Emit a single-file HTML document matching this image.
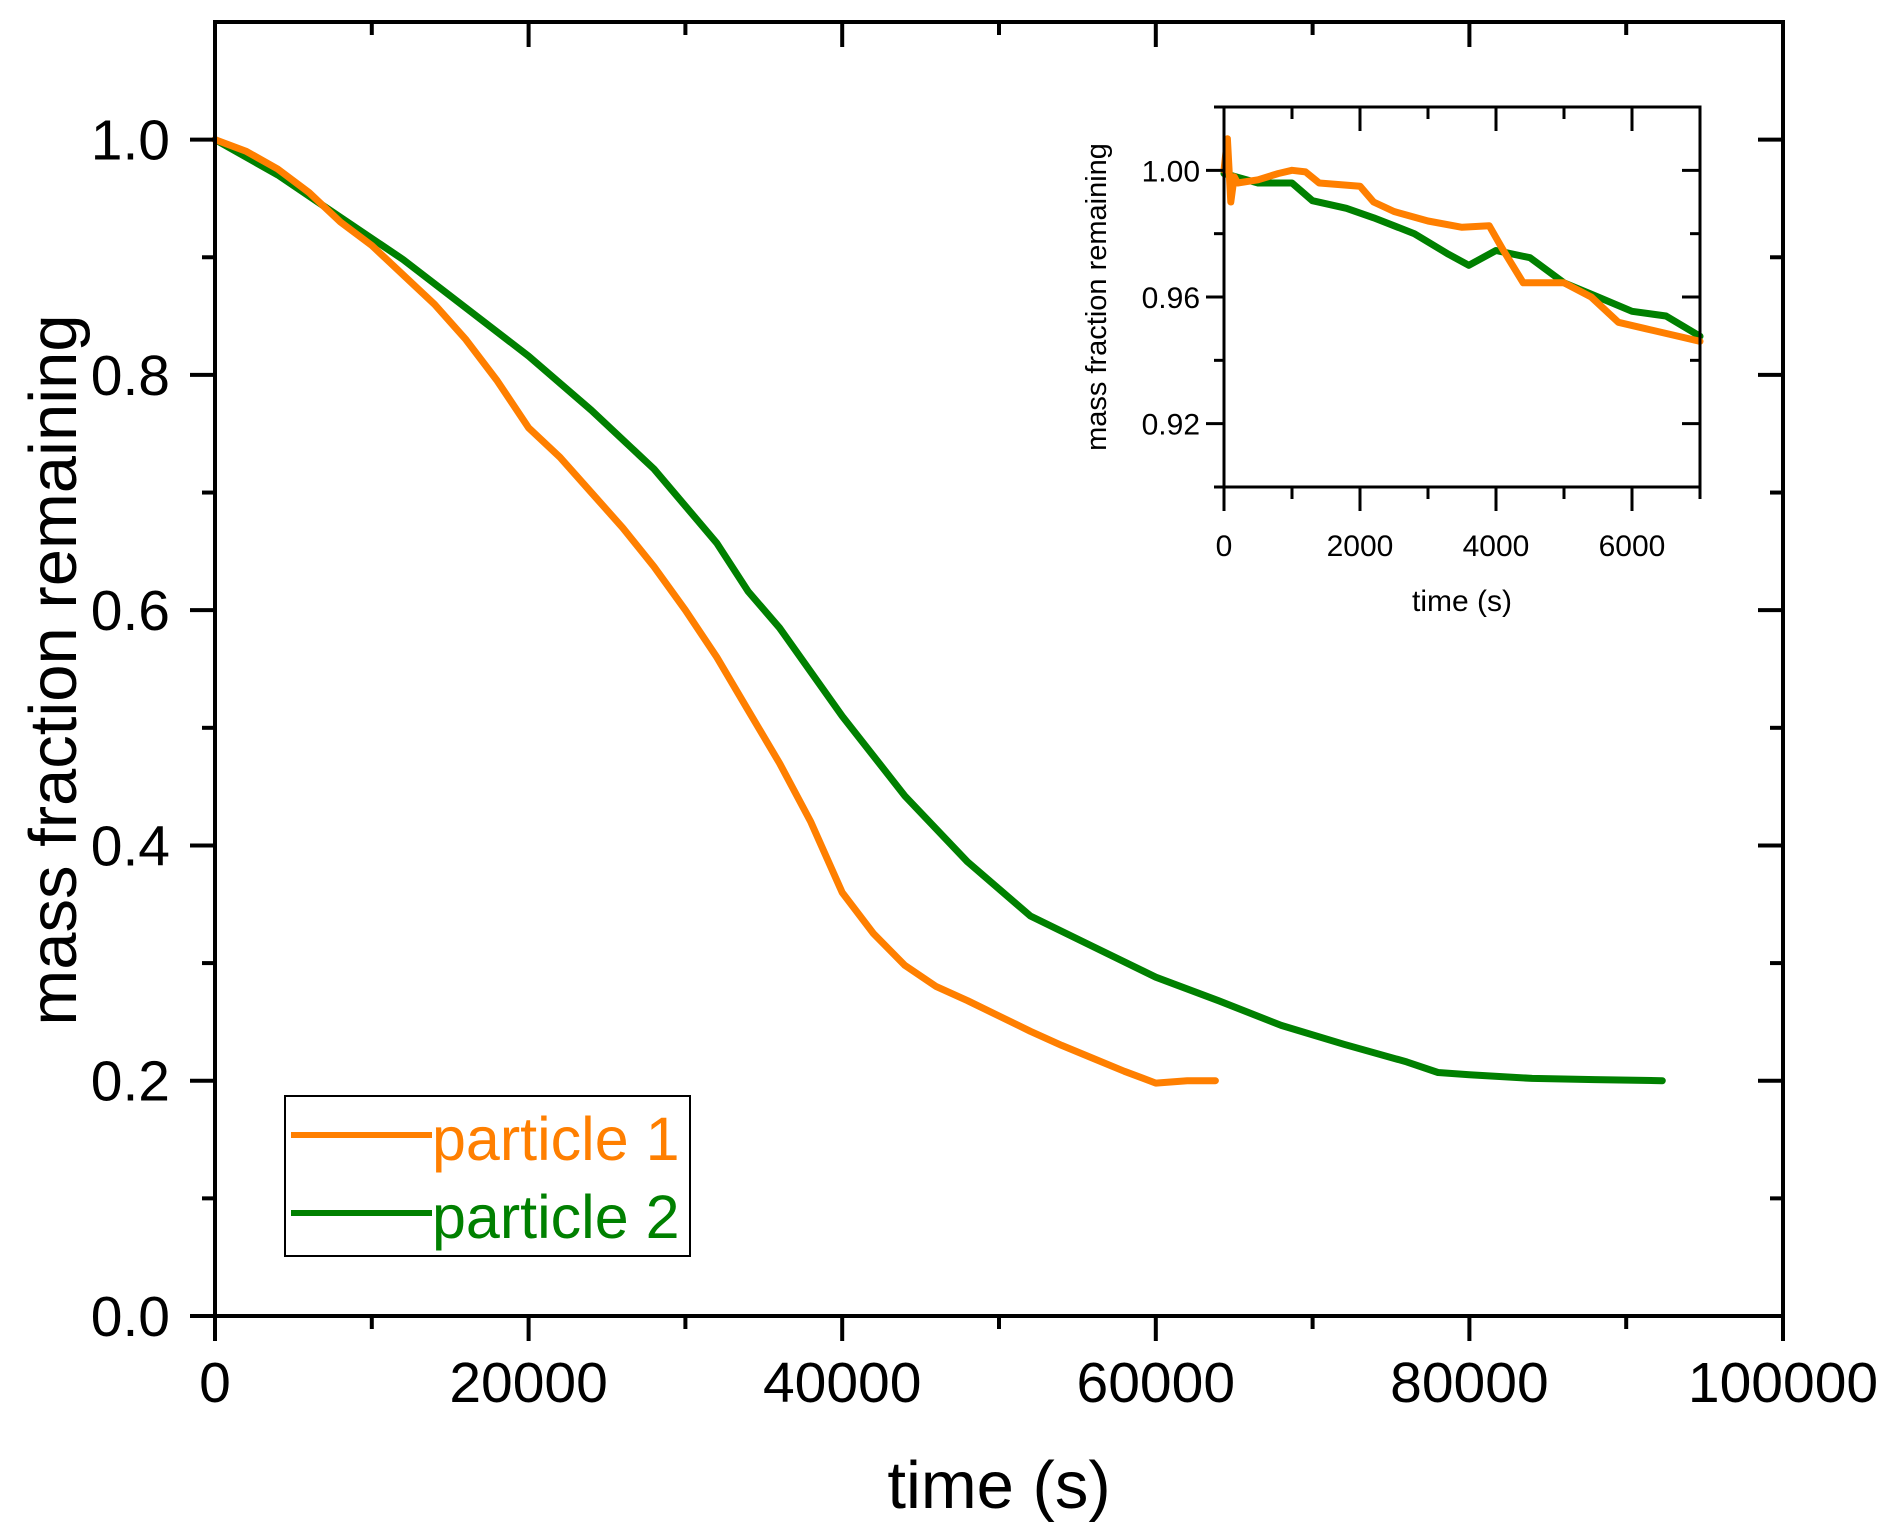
<!DOCTYPE html>
<html><head><meta charset="utf-8"><style>
html,body{margin:0;padding:0;background:#fff;}
svg{display:block;font-family:"Liberation Sans",Arial,sans-serif;}
</style></head><body>
<svg id="chart" width="1892" height="1538" viewBox="0 0 1892 1538" xmlns="http://www.w3.org/2000/svg">
<rect width="1892" height="1538" fill="#fff"/>
<g id="main"></g>
<g id="inset"></g>
<g id="legend">
  <rect x="285" y="1096" width="405" height="160" fill="#fff" stroke="#000" stroke-width="2"/>
  <line x1="291" y1="1135" x2="432" y2="1135" stroke="#FF7F00" stroke-width="6"/>
  <text x="432" y="1160" font-size="61" fill="#FF7F00">particle 1</text>
  <line x1="291" y1="1213" x2="432" y2="1213" stroke="#008000" stroke-width="6"/>
  <text x="432" y="1238" font-size="61" fill="#008000">particle 2</text>
</g>
</svg>
<script>
const p1Time=[0,2000,4000,6000,8000,10000,12000,14000,16000,18000,20000,22000,24000,26000,28000,30000,32000,34000,36000,38000,40000,42000,44000,46000,48000,50000,52000,54000,56000,58000,60000,62000,63800];
const p1Mass=[1.0,0.99,0.975,0.955,0.93,0.91,0.885,0.86,0.83,0.795,0.755,0.73,0.70,0.67,0.637,0.60,0.56,0.515,0.47,0.42,0.36,0.325,0.298,0.28,0.268,0.255,0.242,0.23,0.219,0.208,0.198,0.2,0.2];
const p2Time=[0,4000,8000,12000,16000,20000,24000,28000,32000,34000,36000,40000,44000,48000,52000,56000,60000,64000,68000,72000,76000,78000,80000,84000,88000,92300];
const p2Mass=[1.0,0.97,0.934,0.898,0.857,0.816,0.77,0.72,0.657,0.616,0.585,0.51,0.442,0.386,0.34,0.314,0.288,0.268,0.247,0.231,0.216,0.207,0.205,0.202,0.201,0.2];
const xTicks=[0,20000,40000,60000,80000,100000];
const xTickLabels=["0","20000","40000","60000","80000","100000"];
const yTicks=[0,0.2,0.4,0.6,0.8,1.0];
const yTickLabels=["0.0","0.2","0.4","0.6","0.8","1.0"];
const insP1Time=[0,50,100,150,200,500,800,1000,1200,1400,2000,2200,2500,3000,3500,3900,4100,4400,5000,5400,5800,6200,6600,7000];
const insP1Mass=[1.0,1.01,0.99,0.998,0.996,0.997,0.999,1.0,0.9995,0.996,0.995,0.99,0.987,0.984,0.982,0.9825,0.975,0.9645,0.9645,0.96,0.952,0.95,0.948,0.946];
const insP2Time=[0,500,1000,1300,1800,2200,2800,3300,3600,4000,4500,5000,5500,6000,6500,7000];
const insP2Mass=[0.999,0.996,0.996,0.9904,0.988,0.985,0.98,0.9735,0.970,0.9747,0.9724,0.9645,0.960,0.9555,0.954,0.9476];
const insXTicks=[0,2000,4000,6000];
const insXTickLabels=["0","2000","4000","6000"];
const insYTicks=[0.92,0.96,1.00];
const insYTickLabels=["0.92","0.96","1.00"];

const NS="http://www.w3.org/2000/svg";
function mk(parent,tag,attrs,text){const e=document.createElementNS(NS,tag);for(const k in attrs)e.setAttribute(k,attrs[k]);if(text!==undefined)e.textContent=text;parent.appendChild(e);return e;}

const M={l:215,r:1783,t:22,b:1316,x0:0,x1:100000,y0:0,y1:1.1};
const mx=v=>M.l+(v-M.x0)/(M.x1-M.x0)*(M.r-M.l);
const my=v=>M.b-(v-M.y0)/(M.y1-M.y0)*(M.b-M.t);
const main=document.getElementById('main');
function series(g,T,V,fx,fy,color,w,name){
  const d=T.map((t,i)=>(i?'L':'M')+fx(t).toFixed(1)+','+fy(V[i]).toFixed(1)).join('');
  const p=mk(g,'path',{d:d,fill:'none',stroke:color,'stroke-width':w,'stroke-linejoin':'round','stroke-linecap':'round'});
  
  
}
series(main,p2Time,p2Mass,mx,my,'#008000',7,'series-particle-2');
series(main,p1Time,p1Mass,mx,my,'#FF7F00',7,'series-particle-1');
const frame=mk(main,'rect',{x:M.l,y:M.t,width:M.r-M.l,height:M.b-M.t,fill:'none',stroke:'#000','stroke-width':4});


for(let v=0;v<=100000;v+=10000){
  const major=v%20000===0;const x=mx(v);
  mk(main,'line',{x1:x,y1:M.b,x2:x,y2:M.b+(major?25:13),stroke:'#000','stroke-width':4});
  mk(main,'line',{x1:x,y1:M.t,x2:x,y2:M.t+(major?25:13),stroke:'#000','stroke-width':4});
}
for(let i=0;i<=10;i++){
  const v=i/10;const major=i%2===0;const y=my(v);
  mk(main,'line',{x1:M.l,y1:y,x2:M.l-(major?25:13),y2:y,stroke:'#000','stroke-width':4});
  mk(main,'line',{x1:M.r,y1:y,x2:M.r-(major?25:13),y2:y,stroke:'#000','stroke-width':4});
}
xTicks.forEach((v,i)=>{
  const t=mk(main,'text',{x:mx(v),y:1402,'font-size':57,'text-anchor':'middle'},xTickLabels[i]);
  
  
});
yTicks.forEach((v,i)=>{
  const t=mk(main,'text',{x:170,y:my(v)+20,'font-size':57,'text-anchor':'end'},yTickLabels[i]);
  
  
});
const xt=mk(main,'text',{x:999,y:1508,'font-size':67,'text-anchor':'middle'},'time (s)');


const yt=mk(main,'text',{x:0,y:0,'font-size':67,'text-anchor':'middle',transform:'translate(76,670) rotate(-90)'},'mass fraction remaining');



const I={l:1224,r:1700,t:107,b:487,x0:0,x1:7000,y0:0.90,y1:1.02};
const ix=v=>I.l+(v-I.x0)/(I.x1-I.x0)*(I.r-I.l);
const iy=v=>I.b-(v-I.y0)/(I.y1-I.y0)*(I.b-I.t);
const ins=document.getElementById('inset');
series(ins,insP2Time,insP2Mass,ix,iy,'#008000',7,'inset-series-particle-2');
series(ins,insP1Time,insP1Mass,ix,iy,'#FF7F00',7,'inset-series-particle-1');
const ifr=mk(ins,'rect',{x:I.l,y:I.t,width:I.r-I.l,height:I.b-I.t,fill:'none',stroke:'#000','stroke-width':3});


for(let v=0;v<=7000;v+=1000){
  const major=v%2000===0;const x=ix(v);
  mk(ins,'line',{x1:x,y1:I.b,x2:x,y2:I.b+(major?24:12),stroke:'#000','stroke-width':3});
  mk(ins,'line',{x1:x,y1:I.t,x2:x,y2:I.t+(major?24:12),stroke:'#000','stroke-width':3});
}
for(let i=0;i<=6;i++){
  const v=0.90+i*0.02;const major=(i===1||i===3||i===5);const y=iy(v);
  mk(ins,'line',{x1:I.l,y1:y,x2:I.l-(major?18:10),y2:y,stroke:'#000','stroke-width':3});
  mk(ins,'line',{x1:I.r,y1:y,x2:I.r-(major?18:10),y2:y,stroke:'#000','stroke-width':3});
}
insXTicks.forEach((v,i)=>{
  const t=mk(ins,'text',{x:ix(v),y:556,'font-size':30,'text-anchor':'middle'},insXTickLabels[i]);
  
  
});
insYTicks.forEach((v,i)=>{
  const t=mk(ins,'text',{x:1200,y:iy(v)+11,'font-size':30,'text-anchor':'end'},insYTickLabels[i]);
  
  
});
const ixt=mk(ins,'text',{x:1462,y:611,'font-size':30,'text-anchor':'middle'},'time (s)');


const iyt=mk(ins,'text',{x:0,y:0,'font-size':29,'text-anchor':'middle',transform:'translate(1106,297) rotate(-90)'},'mass fraction remaining');


</script>
</body></html>
